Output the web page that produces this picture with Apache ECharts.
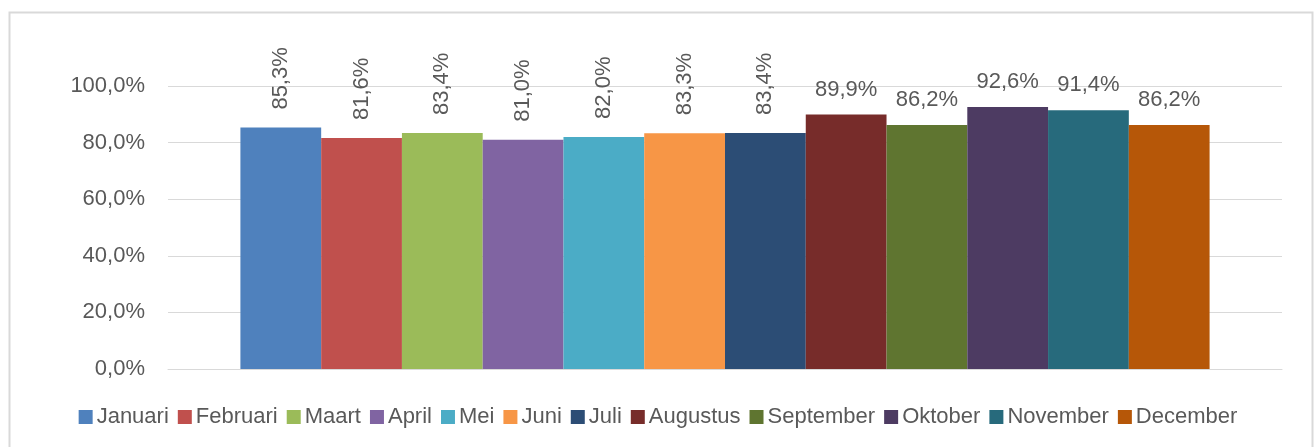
<!DOCTYPE html>
<html>
<head>
<meta charset="utf-8">
<script src="https://cdn.jsdelivr.net/npm/echarts@6/dist/echarts.min.js"></script>
<style>
  html, body { margin: 0; padding: 0; background: #fff; }
  #chart { width: 1316px; height: 447px; }
</style>
</head>
<body>
<div id="chart"></div>
<script>
  // maanden en percentages
  var months = ['Januari', 'Februari', 'Maart', 'April', 'Mei', 'Juni', 'Juli', 'Augustus', 'September', 'Oktober', 'November', 'December'];
  var values = [85.3, 81.6, 83.4, 81.0, 82.0, 83.3, 83.4, 89.9, 86.2, 92.6, 91.4, 86.2];
  var colors = ['#4F81BD', '#C0504D', '#9BBB59', '#8064A2', '#4BACC6', '#F79646', '#2C4D75', '#772C2A', '#5F7530', '#4D3B62', '#276A7C', '#B65708'];
  var rotated = [true, true, true, true, true, true, true, false, false, false, false, false];
  var yTicks = { min: 0, max: 100, interval: 20 };

  var fontFam = '"Liberation Sans", Arial, sans-serif';
  var txtColor = '#595959';

  function pct(v, d) {
    return v.toFixed(d).replace('.', ',') + '%';
  }

  var series = [];
  for (var i = 0; i < months.length; i++) {
    var rot = rotated[i];
    series.push({
      name: months[i],
      type: 'bar',
      barGap: '0%',
      barCategoryGap: '13%',
      itemStyle: { color: colors[i] },
      label: {
        show: true,
        position: 'top',
        distance: rot ? 18 : 14,
        rotate: rot ? 90 : 0,
        align: rot ? 'left' : 'center',
        verticalAlign: rot ? 'middle' : 'bottom',
        fontFamily: fontFam,
        fontSize: 22,
        color: txtColor,
        formatter: function (p) { return pct(p.value, 1); }
      },
      data: [values[i]]
    });
  }

  var chart = echarts.init(document.getElementById('chart'));
  var option = {
    animation: false,
    backgroundColor: '#fff',
    graphic: [{
      type: 'rect',
      shape: { x: 9.5, y: 12.5, width: 1303, height: 460 },
      style: { fill: 'none', stroke: '#d9d9d9', lineWidth: 2 },
      silent: true
    }],
    legend: {
      bottom: 14,
      left: 'center',
      itemWidth: 14,
      itemHeight: 14,
      itemGap: 9,
      icon: 'rect',
      textStyle: { fontFamily: fontFam, fontSize: 22, color: txtColor, padding: [0, 0, 0, -1] },
      data: months
    },
    grid: { left: 168, right: 34, top: 86, bottom: 78 },
    xAxis: {
      type: 'category',
      data: [''],
      axisLine: { show: true, lineStyle: { color: '#d9d9d9', width: 1 } },
      axisTick: { show: false },
      axisLabel: { show: false }
    },
    yAxis: {
      type: 'value',
      min: yTicks.min,
      max: yTicks.max,
      interval: yTicks.interval,
      axisLine: { show: false },
      axisTick: { show: false },
      splitLine: { lineStyle: { color: '#d9d9d9', width: 1 } },
      axisLabel: {
        margin: 23,
        fontFamily: fontFam,
        fontSize: 22,
        color: txtColor,
        formatter: function (v) { return pct(v, 1); }
      }
    },
    series: series
  };
  chart.setOption(option);
</script>
</body>
</html>
